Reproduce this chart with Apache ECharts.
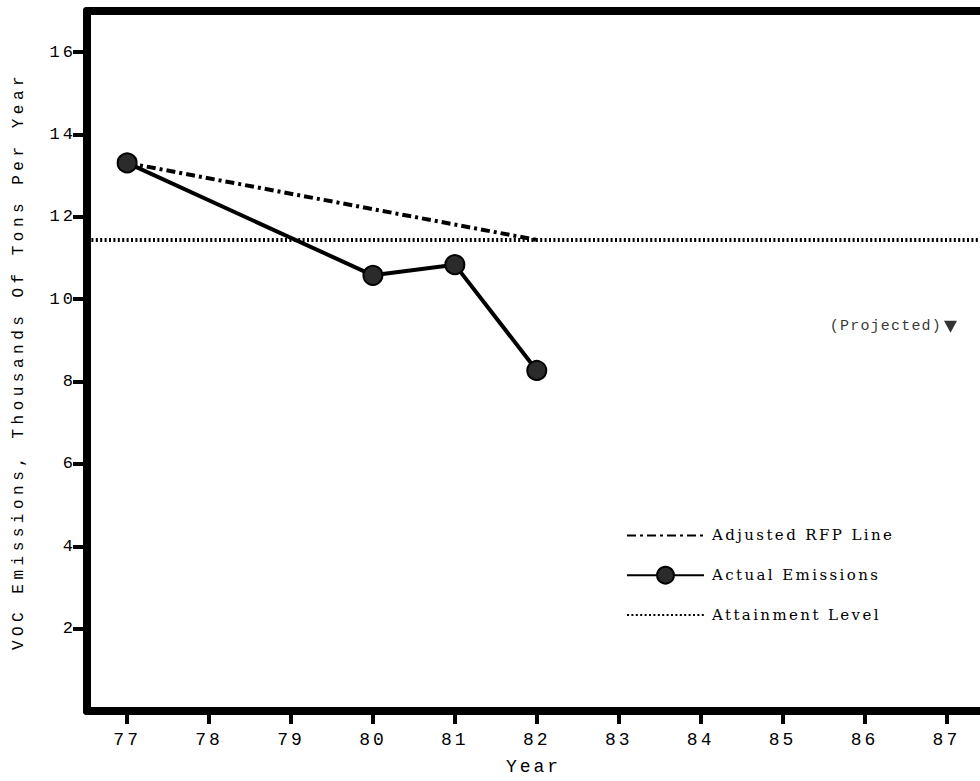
<!DOCTYPE html>
<html>
<head>
<meta charset="utf-8">
<script src="https://cdn.jsdelivr.net/npm/echarts@6/dist/echarts.min.js"></script>
<style>
  html, body { margin: 0; padding: 0; background: #fff; overflow: hidden; }
  #chart { width: 980px; height: 781px; }
  #chart svg { display: block; }
</style>
</head>
<body>
<div id="chart"></div>
<script>
// ---- data ----
const actualYears = [77, 80, 81, 82];
const actualValues = [13.31, 10.58, 10.84, 8.27];
const rfpYears = [77, 82];
const rfpValues = [13.31, 11.44];
const attainmentLevel = 11.44;
const projectedYear = [87.05];
const projectedValue = [9.33];
const xTickYears = [77, 78, 79, 80, 81, 82, 83, 84, 85, 86, 87];
const yTickValues = [2, 4, 6, 8, 10, 12, 14, 16];
const xMin = 76.51, xMax = 87.41, yMin = 0, yMax = 17;
const yAxisTitle = 'VOC Emissions, Thousands Of Tons Per Year';
const xAxisTitle = 'Year';
const seriesNames = ['Adjusted RFP Line', 'Actual Emissions', 'Attainment Level'];
const projectedLabel = '(Projected)';

const MONO = 'Liberation Mono, DejaVu Sans Mono, monospace';
const SERIF = 'DejaVu Serif, Liberation Serif, serif';

const chart = echarts.init(document.getElementById('chart'), null, { renderer: 'svg' });

const option = {
  animation: false,
  backgroundColor: '#ffffff',
  grid: { left: 87, right: 0, top: 11, bottom: 61, containLabel: false },
  xAxis: [
    {
      type: 'value', min: xMin, max: xMax, position: 'bottom',
      name: xAxisTitle, nameLocation: 'middle', nameGap: 47,
      nameTextStyle: { fontFamily: MONO, fontSize: 18, color: '#000' },
      axisLine: { show: true, onZero: false, lineStyle: { color: '#000', width: 8 } },
      axisTick: { show: true, length: 13, lineStyle: { color: '#000', width: 4 }, customValues: xTickYears },
      axisLabel: { show: true, customValues: xTickYears, margin: 20, fontFamily: MONO, fontSize: 18, color: '#000' },
      splitLine: { show: false }
    },
    {
      type: 'value', min: xMin, max: xMax, position: 'top',
      axisLine: { show: true, onZero: false, lineStyle: { color: '#000', width: 8 } },
      axisTick: { show: false }, axisLabel: { show: false }, splitLine: { show: false }
    }
  ],
  yAxis: {
    type: 'value', min: yMin, max: yMax,
    name: yAxisTitle, nameLocation: 'middle', nameGap: 60,
    nameTextStyle: { fontFamily: MONO, fontSize: 16, color: '#000' },
    axisLine: { show: true, onZero: false, lineStyle: { color: '#000', width: 8 } },
    axisTick: { show: true, length: 14, lineStyle: { color: '#000', width: 4 }, customValues: yTickValues },
    axisLabel: { show: true, customValues: yTickValues, margin: 11, fontFamily: MONO, fontSize: 17, color: '#000' },
    splitLine: { show: false }
  },
  legend: {
    orient: 'vertical', left: 621, top: 522,
    data: seriesNames,
    itemWidth: 77, itemHeight: 21, itemGap: 22,
    textStyle: { fontFamily: SERIF, fontSize: 15, color: '#000', padding: [0, 0, 0, 3] },
    inactiveColor: '#000'
  },
  series: [
    {
      name: seriesNames[0], type: 'line', xAxisIndex: 0,
      data: rfpYears.map((x, i) => [x, rfpValues[i]]),
      symbol: 'none', z: 2,
      lineStyle: { color: '#000', width: 4, type: [9, 4, 3, 4] },
      itemStyle: { color: 'rgba(0,0,0,0)' }
    },
    {
      name: seriesNames[1], type: 'line', xAxisIndex: 0,
      data: actualYears.map((x, i) => [x, actualValues[i]]),
      symbol: 'circle', symbolSize: 19, z: 4,
      lineStyle: { color: '#000', width: 4 },
      itemStyle: { color: '#2b2b2b', borderColor: '#000', borderWidth: 2 }
    },
    {
      name: seriesNames[2], type: 'line', xAxisIndex: 0,
      data: [[xMin, attainmentLevel], [xMax, attainmentLevel]],
      symbol: 'none', z: 1,
      lineStyle: { color: '#000', width: 4, type: [2, 2.4] },
      itemStyle: { color: 'rgba(0,0,0,0)' }
    },
    {
      name: 'Projected', type: 'scatter', xAxisIndex: 0,
      data: projectedYear.map((x, i) => [x, projectedValue[i]]),
      symbol: 'triangle', symbolRotate: 180, symbolSize: [13, 12], z: 5,
      itemStyle: { color: '#000' },
      label: {
        show: true, position: 'left', distance: 2, formatter: projectedLabel,
        fontFamily: MONO, fontSize: 15, color: '#000'
      }
    }
  ]
};

chart.setOption(option);

function applySpacing() {
  const texts = document.querySelectorAll('#chart text');
  texts.forEach(t => {
    const s = t.textContent;
    let ls = null;
    if (s === yAxisTitle) ls = '4.5px';
    else if (s === xAxisTitle || /^\d+$/.test(s)) ls = '3px';
    else if (s === projectedLabel) ls = '1.2px';
    else if (seriesNames.indexOf(s) >= 0) ls = '2.4px';
    if (ls) t.style.letterSpacing = ls;
  });
}
chart.on('finished', applySpacing);
applySpacing();
setTimeout(applySpacing, 50);
setTimeout(applySpacing, 300);
</script>
</body>
</html>
